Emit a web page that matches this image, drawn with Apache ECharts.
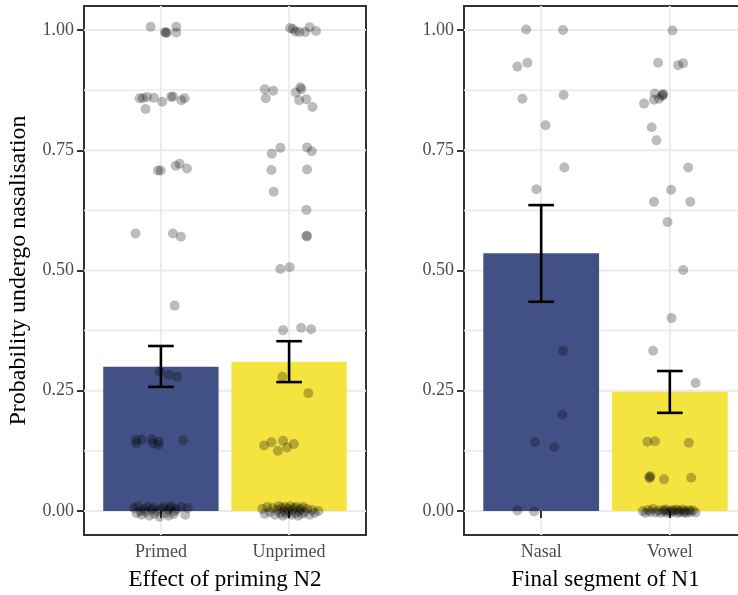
<!DOCTYPE html>
<html>
<head>
<meta charset="utf-8">
<script src="https://cdn.jsdelivr.net/npm/echarts@6/dist/echarts.min.js"></script>
<style>html,body{margin:0;padding:0;background:#fff}#c{width:738px;height:595px}</style>
</head>
<body>
<div id="c"></div>
<script>
const catsLeft = ['Primed', 'Unprimed'];
const catsRight = ['Nasal', 'Vowel'];
const meanLeft = [0.300, 0.310];
const loLeft = [0.258, 0.268];
const hiLeft = [0.343, 0.353];
const meanRight = [0.536, 0.248];
const loRight = [0.435, 0.204];
const hiRight = [0.636, 0.291];
const yTicks = [0, 0.25, 0.5, 0.75, 1];
const yMinor = [0.125, 0.375, 0.625, 0.875];
const xTicks = [1, 2];
const titleLeft = 'Effect of priming N2';
const titleRight = 'Final segment of N1';
const titleY = 'Probability undergo nasalisation';

const primedPts = [
  [0.92,1.007],[1.03,0.996],[1.04,0.994],[1.045,0.995],[1.12,1.007],[1.12,0.995],
  [0.834,0.858],[0.859,0.858],[0.891,0.861],[0.945,0.859],[0.880,0.836],[1.01,0.851],[1.08,0.861],[1.094,0.862],[1.159,0.854],[1.185,0.858],
  [0.977,0.708],[0.998,0.708],[1.115,0.718],[1.146,0.722],[1.203,0.712],
  [0.802,0.577],[1.094,0.577],[1.156,0.570],[1.107,0.427],
  [0.99,0.290],[1.06,0.283],[1.127,0.279],
  [0.807,0.148],[0.807,0.141],[0.852,0.148],[0.93,0.149],[0.9375,0.141],[0.984,0.144],[0.979,0.137],[1.174,0.147],
  [0.79,0.006],[0.81,-0.004],[0.82,0.010],[0.84,0.000],[0.85,-0.008],[0.87,0.004],[0.88,-0.002],[0.90,0.008],[0.91,-0.010],
  [0.93,0.002],[0.94,0.006],[0.95,-0.006],[0.97,0.000],[0.99,-0.012],[1.00,0.004],[1.02,0.008],[1.04,-0.004],[1.05,0.002],
  [1.06,-0.010],[1.07,0.006],[1.08,0.010],[1.10,-0.006],[1.11,0.000],[1.12,0.004],[1.16,0.008],[1.19,-0.008],[1.21,0.006]
];
const unprimedPts = [
  [2.008,1.004],[2.03,1.002],[2.08,0.996],[2.125,0.996],[2.16,1.006],[2.21,0.998],[2.05,0.997],
  [1.81,0.877],[1.875,0.874],[1.818,0.858],[2.088,0.881],[2.096,0.877],[2.052,0.870],[2.078,0.854],[2.135,0.856],[2.182,0.840],
  [1.865,0.743],[1.932,0.755],[2.14,0.756],[2.177,0.748],[1.862,0.709],[2.14,0.710],[1.88,0.664],
  [2.135,0.626],[2.135,0.572],[2.14,0.571],[1.932,0.503],[2.005,0.507],[1.953,0.376],[2.094,0.381],[2.172,0.378],
  [1.948,0.279],[2.15,0.245],
  [1.805,0.136],[1.862,0.143],[1.953,0.146],[1.912,0.125],[1.984,0.132],[2.037,0.139],
  [1.79,0.004],[1.81,-0.006],[1.83,0.008],[1.85,-0.002],[1.87,0.006],[1.89,-0.008],[1.91,0.002],[1.92,0.010],[1.93,-0.004],
  [1.94,0.006],[1.95,-0.010],[1.96,0.000],[1.97,0.008],[1.98,-0.006],[1.99,0.004],[2.00,-0.002],[2.01,0.010],[2.02,-0.008],
  [2.03,0.002],[2.04,0.006],[2.05,-0.004],[2.06,0.008],[2.07,-0.010],[2.08,0.000],[2.09,0.004],[2.10,-0.006],[2.11,0.008],
  [2.12,-0.002],[2.14,0.004],[2.16,-0.008],[2.18,0.002],[2.20,-0.004],[2.23,0.000]
];
const nasalPts = [
  [0.883,1.001],[1.17,1.0],[0.815,0.924],[0.893,0.932],[0.854,0.857],[1.174,0.865],[1.034,0.802],[1.18,0.714],[0.963,0.669],
  [1.17,0.333],[1.164,0.200],[0.951,0.143],[1.102,0.133],[0.815,0.001],[0.945,-0.001]
];
const vowelPts = [
  [2.021,0.999],[1.909,0.932],[2.065,0.927],[2.104,0.931],[1.883,0.868],[1.948,0.867],[1.94,0.863],[1.945,0.865],[1.916,0.857],
  [1.877,0.855],[1.8,0.847],[1.859,0.798],[1.896,0.771],[2.143,0.714],[2.01,0.668],[1.877,0.643],[2.159,0.643],[1.982,0.601],
  [2.104,0.501],[2.013,0.401],[1.87,0.333],[2.2,0.266],
  [1.826,0.144],[1.885,0.145],[2.148,0.142],[1.84,0.071],[1.844,0.068],[1.85,0.072],[1.955,0.066],[2.166,0.069],
  [1.79,0.000],[1.81,-0.004],[1.83,0.002],[1.85,-0.002],[1.87,0.004],[1.89,-0.003],[1.91,0.001],[1.93,-0.004],[1.95,0.002],
  [1.96,-0.001],[1.97,0.003],[1.98,-0.004],[2.00,0.000],[2.01,-0.003],[2.02,0.002],[2.03,-0.001],[2.05,0.003],[2.06,-0.004],
  [2.07,0.001],[2.08,-0.002],[2.10,0.003],[2.11,-0.003],[2.12,0.000],[2.13,-0.004],[2.15,0.002],[2.16,-0.002],[2.18,0.001],[2.20,-0.003]
];

const barColors = ['#425185', '#F5E340'];
const FONT = 'Liberation Serif';

function hLineItem(width) {
  return function (params, api) {
    const v = api.value(1);
    const a = api.coord([0.4, v]);
    const b = api.coord([2.6, v]);
    return { type: 'line', silent: true, shape: { x1: a[0], y1: a[1], x2: b[0], y2: b[1] }, style: { stroke: '#ebebeb', lineWidth: width } };
  };
}
function vLineItem(params, api) {
  const v = api.value(0);
  const a = api.coord([v, -0.05]);
  const b = api.coord([v, 1.05]);
  return { type: 'line', silent: true, shape: { x1: a[0], y1: a[1], x2: b[0], y2: b[1] }, style: { stroke: '#ebebeb', lineWidth: 2 } };
}
function barItem(params, api) {
  const x = api.value(0), y = api.value(1);
  const p0 = api.coord([x - 0.45, 0]);
  const p1 = api.coord([x + 0.45, y]);
  return { type: 'rect', shape: { x: p0[0], y: p1[1], width: p1[0] - p0[0], height: p0[1] - p1[1] }, style: { fill: barColors[params.dataIndex] } };
}
function errItem(params, api) {
  const x = api.value(0), lo = api.value(1), hi = api.value(2);
  const a = api.coord([x, lo]), b = api.coord([x, hi]);
  const cl = api.coord([x - 0.1, lo]), cr = api.coord([x + 0.1, hi]);
  const st = { stroke: '#000', lineWidth: 2.6 };
  return { type: 'group', children: [
    { type: 'line', shape: { x1: a[0], y1: a[1], x2: b[0], y2: b[1] }, style: st },
    { type: 'line', shape: { x1: cl[0], y1: a[1], x2: cr[0], y2: a[1] }, style: st },
    { type: 'line', shape: { x1: cl[0], y1: b[1], x2: cr[0], y2: b[1] }, style: st }
  ]};
}

function xAxisFor(idx, cats, title) {
  return {
    type: 'value', gridIndex: idx, min: 0.4, max: 2.6,
    splitLine: { show: false },
    axisLine: { show: false },
    axisTick: { show: true, customValues: xTicks, length: 7, lineStyle: { color: '#333', width: 2 } },
    axisLabel: { customValues: xTicks, margin: 8, color: '#4d4d4d', fontSize: 18, fontFamily: FONT,
      formatter: function (v) { return cats[Math.round(v) - 1]; } },
    name: title, nameLocation: 'middle', nameGap: 33,
    nameTextStyle: { color: '#000', fontSize: 23, fontFamily: FONT }
  };
}
function yAxisFor(idx, withName) {
  const ax = {
    type: 'value', gridIndex: idx, min: -0.05, max: 1.05,
    splitLine: { show: false },
    axisLine: { show: false },
    axisTick: { show: true, customValues: yTicks, length: 7, lineStyle: { color: '#333', width: 2 } },
    axisLabel: { customValues: yTicks, margin: 10, color: '#4d4d4d', fontSize: 18, fontFamily: FONT,
      formatter: function (v) { return v.toFixed(2); } }
  };
  if (withName) {
    ax.name = titleY; ax.nameLocation = 'middle'; ax.nameGap = 53;
    ax.nameTextStyle = { color: '#000', fontSize: 24, fontFamily: FONT };
  }
  return ax;
}

function panelSeries(idx, means, lo, hi, ptsA, ptsB) {
  const base = { xAxisIndex: idx, yAxisIndex: idx };
  return [
    Object.assign({ type: 'custom', z: 0, renderItem: hLineItem(2), data: yTicks.map(v => [1, v]), silent: true }, base),
    Object.assign({ type: 'custom', z: 0, renderItem: hLineItem(1.5), data: yMinor.map(v => [1, v]), silent: true }, base),
    Object.assign({ type: 'custom', z: 0, renderItem: vLineItem, data: xTicks.map(v => [v, 0]), silent: true }, base),
    Object.assign({ type: 'custom', z: 1, renderItem: barItem, data: means.map((m, i) => [xTicks[i], m]) }, base),
    Object.assign({ type: 'scatter', z: 2, symbolSize: 10, itemStyle: { color: 'rgba(0,0,0,0.33)' }, data: ptsA.concat(ptsB) }, base),
    Object.assign({ type: 'custom', z: 3, renderItem: errItem, data: means.map((m, i) => [xTicks[i], lo[i], hi[i]]) }, base)
  ];
}

const chart = echarts.init(document.getElementById('c'), null, { renderer: 'canvas' });
chart.setOption({
  animation: false,
  backgroundColor: '#fff',
  grid: [
    { left: 84, top: 6, width: 282, height: 529, outerBoundsMode: 'none', containLabel: false, show: true, borderColor: '#333', borderWidth: 2, backgroundColor: 'transparent' },
    { left: 464, top: 6, width: 283, height: 529, outerBoundsMode: 'none', containLabel: false, show: true, borderColor: '#333', borderWidth: 2, backgroundColor: 'transparent' }
  ],
  xAxis: [xAxisFor(0, catsLeft, titleLeft), xAxisFor(1, catsRight, titleRight)],
  yAxis: [yAxisFor(0, true), yAxisFor(1, false)],
  series: panelSeries(0, meanLeft, loLeft, hiLeft, primedPts, unprimedPts)
    .concat(panelSeries(1, meanRight, loRight, hiRight, nasalPts, vowelPts))
});
</script>
</body>
</html>
